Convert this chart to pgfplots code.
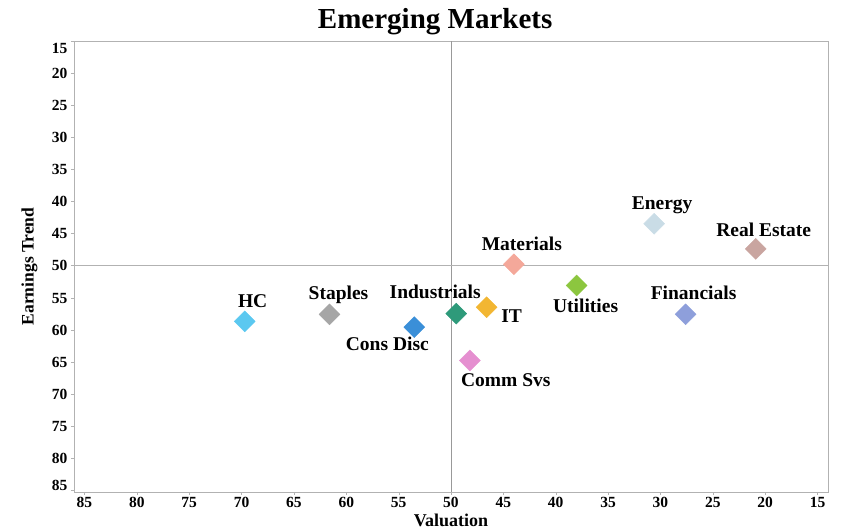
\documentclass[border=0pt]{standalone}
\usepackage{fontspec}
\setmainfont{Liberation Serif}
\usepackage{pgfplots}
\pgfplotsset{compat=1.18}

% sector colours
\definecolor{cHC}{HTML}{5BC8F0}
\definecolor{cStaples}{HTML}{A6A6A6}
\definecolor{cConsDisc}{HTML}{3A8FD8}
\definecolor{cIndustrials}{HTML}{2E9A7A}
\definecolor{cIT}{HTML}{F2B632}
\definecolor{cComm}{HTML}{E58FD0}
\definecolor{cMaterials}{HTML}{F4A89A}
\definecolor{cUtilities}{HTML}{8CC63F}
\definecolor{cEnergy}{HTML}{C9DCE6}
\definecolor{cRealEstate}{HTML}{C9A5A0}
\definecolor{cFinancials}{HTML}{8E9FDB}

\pgfplotsset{
  sector/.style n args={4}{
    only marks, mark=square*, mark size=7.4pt,
    mark options={rotate=45, fill=#1, draw=#1},
    color=#1,
    nodes near coords={#2},
    every node near coord/.append style={
      anchor=center, text=black, xshift=#3, yshift=#4,
      font=\fontsize{19.5}{20}\selectfont\bfseries},
  },
}

% first and last y tick labels are pulled inside the axis range
\newcommand{\ylab}{%
  \ifnum\ticknum=0\relax
    \raisebox{-7pt}[0.7em][0pt]{\pgfmathprintnumber{\tick}}%
  \else\ifnum\ticknum=14\relax
    \raisebox{5pt}[0.7em][0pt]{\pgfmathprintnumber{\tick}}%
  \else
    \raisebox{0pt}[0.7em][0pt]{\pgfmathprintnumber{\tick}}%
  \fi\fi}

\begin{document}
\begin{tikzpicture}
  \path[use as bounding box] (-74pt,-39pt) rectangle (770pt,492pt);
  \begin{axis}[
    scale only axis,
    width = 754pt,
    height = 451pt,
    at = {(0,0)}, anchor = south west,
    x dir = reverse,
    y dir = reverse,
    xmin = 14, xmax = 86,
    ymin = 15, ymax = 85.3,
    xtick = {15,20,...,85},
    ytick = {15,20,...,85},
    yticklabel = {\ylab},
    xtick pos = left, ytick pos = left,
    tick align = outside,
    major tick length = 3pt,
    tick style = {gray!60},
    axis line style = {gray!60},
    /pgf/number format/assume math mode = true,
    ticklabel style = {font=\fontsize{15.5}{16}\selectfont\bfseries},
    xticklabel style = {yshift=1pt},
    title = {Emerging Markets},
    every axis title/.style = {font=\fontsize{29}{30}\selectfont\bfseries,
      at={(axis description cs:0.479,1.044)}, anchor=center},
    xlabel = {Valuation},
    every axis x label/.style = {font=\fontsize{18}{18}\selectfont\bfseries,
      at={(axis description cs:0.5,-0.064)}, anchor=center},
    ylabel = {Earnings Trend},
    every axis y label/.style = {font=\fontsize{17.5}{18}\selectfont\bfseries,
      at={(axis description cs:-0.059,0.5)}, anchor=center, rotate=90},
    clip = false,
  ]
    % quadrant lines
    \addplot[gray!80, line width=0.6pt, no markers] coordinates {(50,15) (50,85.3)};
    \addplot[gray!60, line width=0.6pt, no markers] coordinates {(14,50) (86,50)};

    \addplot[sector={cHC}{HC}{8pt}{20pt}]                coordinates {(69.7,58.7)};
    \addplot[sector={cStaples}{Staples}{9pt}{19pt}]      coordinates {(61.6,57.6)};
    \addplot[sector={cConsDisc}{Cons Disc}{-27pt}{-17pt}] coordinates {(53.5,59.6)};
    \addplot[sector={cIndustrials}{Industrials}{-21pt}{22pt}] coordinates {(49.5,57.5)};
    \addplot[sector={cIT}{IT}{25pt}{-9pt}]               coordinates {(46.6,56.5)};
    \addplot[sector={cComm}{Comm Svs}{36pt}{-20pt}]      coordinates {(48.2,64.8)};
    \addplot[sector={cMaterials}{Materials}{8pt}{20pt}]  coordinates {(44.0,49.8)};
    \addplot[sector={cUtilities}{Utilities}{9pt}{-20pt}] coordinates {(38.0,53.1)};
    \addplot[sector={cEnergy}{Energy}{8pt}{19pt}]        coordinates {(30.6,43.5)};
    \addplot[sector={cRealEstate}{Real Estate}{8pt}{19pt}] coordinates {(20.9,47.4)};
    \addplot[sector={cFinancials}{Financials}{8pt}{21pt}] coordinates {(27.6,57.6)};
  \end{axis}
\end{tikzpicture}
\end{document}
